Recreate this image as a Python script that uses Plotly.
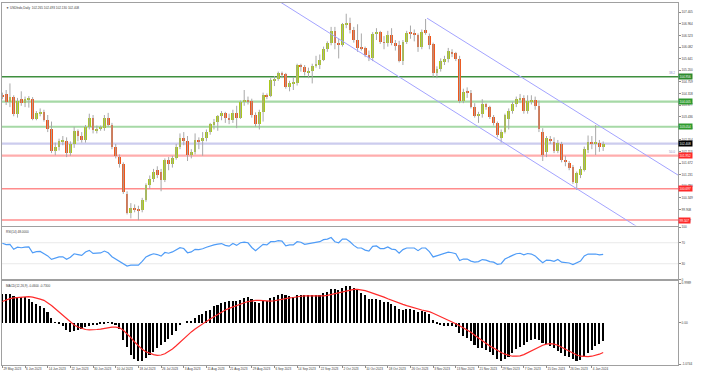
import plotly.graph_objects as go

# ---------------- data (daily bars, 29 May 2023 .. 9 Jan 2024) ----------------
OPEN = [
104.27, 104.28, 104.00, 104.17, 103.55, 104.10, 103.95, 104.08, 104.12, 103.35,
103.56, 103.62, 103.32, 102.95, 102.15, 102.28, 102.50, 102.52, 102.07, 102.38,
102.90, 102.72, 102.55, 103.05, 103.40, 102.92, 102.98, 103.00, 103.38, 103.12,
102.28, 101.92, 101.62, 100.50, 99.78, 99.95, 99.92, 99.88, 100.27, 100.82,
101.08, 101.40, 101.32, 101.02, 101.78, 101.62, 101.88, 102.30, 102.62, 102.50,
101.98, 102.08, 102.55, 102.50, 102.62, 102.85, 103.15, 103.22, 103.45, 103.58,
103.38, 103.30, 103.58, 103.40, 103.98, 104.08, 104.02, 103.50, 103.15, 103.62,
104.25, 104.22, 104.83, 104.85, 105.08, 105.05, 104.58, 104.70, 104.72, 105.40,
105.32, 105.12, 105.19, 105.38, 105.40, 105.58, 106.02, 106.22, 106.68, 106.25,
106.17, 106.95, 107.00, 106.75, 106.34, 106.10, 106.03, 105.78, 105.65, 106.57,
106.65, 106.26, 106.24, 106.56, 106.23, 106.16, 105.54, 106.26, 106.60, 106.59,
106.56, 106.09, 106.72, 106.50, 106.20, 105.08, 105.25, 105.55, 105.62, 105.90,
105.85, 105.64, 104.05, 104.37, 104.35, 103.82, 103.48, 103.55, 103.90, 103.80,
103.42, 103.18, 102.62, 102.86, 103.35, 103.65, 103.90, 104.10, 104.15, 103.65,
104.02, 104.07, 103.85, 102.85, 102.10, 102.58, 102.48, 102.15, 102.40, 101.80,
101.66, 101.52, 100.92, 101.22, 101.41, 102.18, 102.46, 102.42, 102.44, 102.265]
HIGH = [
104.35, 104.45, 104.70, 104.25, 104.15, 104.40, 104.20, 104.22, 104.18, 103.65,
103.75, 103.70, 103.50, 103.25, 102.45, 102.60, 102.70, 102.65, 102.50, 103.05,
102.95, 102.85, 103.12, 103.55, 103.50, 103.10, 103.10, 103.50, 103.58, 103.20,
102.40, 102.00, 101.70, 100.60, 100.15, 100.10, 100.05, 100.35, 100.90, 101.20,
101.45, 101.55, 101.45, 101.85, 101.90, 101.95, 102.40, 102.80, 102.85, 102.70,
102.20, 102.80, 102.65, 102.85, 102.95, 103.20, 103.35, 103.50, 103.65, 103.62,
103.55, 103.70, 103.85, 104.05, 104.45, 104.20, 104.12, 103.60, 103.70, 104.35,
104.32, 104.90, 104.98, 105.15, 105.15, 105.10, 104.80, 104.95, 105.45, 105.45,
105.40, 105.30, 105.45, 105.75, 105.80, 106.10, 106.30, 106.85, 106.85, 106.40,
107.00, 107.35, 107.20, 106.85, 106.95, 106.60, 106.10, 105.95, 106.65, 106.80,
106.70, 106.50, 106.70, 106.80, 106.35, 106.32, 106.35, 106.70, 106.90, 106.75,
106.60, 106.75, 107.15, 106.60, 106.25, 105.35, 105.65, 105.75, 106.05, 106.00,
105.90, 105.75, 104.50, 104.55, 104.45, 103.95, 103.62, 104.10, 103.95, 103.85,
103.50, 103.25, 102.95, 103.55, 103.75, 104.00, 104.20, 104.30, 104.25, 104.25,
104.25, 104.20, 104.05, 103.00, 102.70, 102.70, 102.65, 102.55, 102.48, 101.95,
101.75, 101.60, 101.35, 101.55, 102.30, 102.72, 102.70, 103.12, 102.55, 102.493]
LOW = [
104.10, 103.88, 103.80, 103.45, 103.40, 103.85, 103.80, 103.78, 103.30, 103.30,
103.45, 103.25, 102.85, 102.05, 101.97, 102.15, 102.35, 101.90, 101.95, 102.25,
102.50, 102.45, 102.45, 102.95, 102.80, 102.80, 102.90, 102.90, 103.05, 102.20,
101.85, 101.50, 100.50, 99.72, 99.57, 99.80, 99.50, 99.80, 100.20, 100.70,
100.95, 101.10, 100.60, 100.95, 101.40, 101.50, 101.80, 102.20, 102.35, 101.75,
101.85, 102.00, 102.20, 101.95, 102.50, 102.75, 102.95, 102.90, 103.30, 103.20,
103.15, 103.20, 103.00, 103.35, 103.85, 103.90, 103.40, 103.05, 102.95, 103.25,
104.10, 104.18, 104.60, 104.80, 104.90, 104.50, 104.40, 104.45, 104.62, 105.15,
105.00, 104.90, 104.70, 105.30, 105.25, 105.55, 105.90, 106.15, 106.00, 105.65,
106.10, 106.80, 106.60, 106.25, 105.90, 105.95, 105.70, 105.55, 105.55, 106.35,
106.20, 106.00, 106.10, 106.15, 105.95, 105.50, 105.40, 106.20, 106.40, 106.30,
105.90, 106.00, 106.55, 106.00, 104.95, 104.90, 105.15, 105.40, 105.50, 105.70,
105.55, 103.95, 103.95, 104.15, 103.75, 103.40, 103.20, 103.40, 103.70, 103.35,
103.10, 102.65, 102.45, 102.80, 102.95, 103.55, 103.80, 103.95, 103.55, 103.55,
103.90, 103.70, 102.85, 101.75, 101.90, 102.40, 102.05, 102.05, 101.70, 101.55,
101.40, 100.88, 100.65, 101.10, 101.35, 102.05, 102.20, 101.98, 102.10, 102.130]
CLOSE = [
104.20, 104.00, 104.18, 103.52, 104.05, 103.95, 104.10, 104.13, 103.33, 103.56,
103.62, 103.32, 102.95, 102.15, 102.28, 102.50, 102.52, 102.07, 102.38, 102.90,
102.72, 102.55, 103.05, 103.40, 102.92, 102.98, 103.00, 103.38, 103.12, 102.28,
101.95, 101.65, 100.58, 99.78, 99.95, 99.90, 99.88, 100.27, 100.82, 101.08,
101.35, 101.22, 101.02, 101.78, 101.62, 101.88, 102.30, 102.62, 102.50, 101.98,
102.08, 102.55, 102.50, 102.62, 102.85, 103.15, 103.22, 103.45, 103.58, 103.38,
103.30, 103.58, 103.40, 103.98, 104.08, 104.02, 103.50, 103.15, 103.62, 104.25,
104.22, 104.83, 104.85, 105.08, 105.05, 104.58, 104.70, 104.72, 105.40, 105.32,
105.12, 105.19, 105.38, 105.40, 105.58, 106.02, 106.22, 106.68, 106.25, 106.17,
106.95, 107.00, 106.75, 106.34, 106.05, 106.03, 105.78, 105.65, 106.57, 106.65,
106.26, 106.24, 106.56, 106.23, 106.16, 105.54, 106.26, 106.60, 106.59, 106.56,
106.09, 106.66, 106.65, 106.15, 105.08, 105.25, 105.55, 105.62, 105.92, 105.85,
105.64, 104.05, 104.37, 104.35, 103.82, 103.48, 103.55, 103.90, 103.80, 103.42,
103.18, 102.74, 102.86, 103.50, 103.65, 103.90, 104.10, 104.15, 103.65, 104.02,
104.07, 103.85, 102.95, 101.98, 102.62, 102.52, 102.12, 102.44, 101.80, 101.72,
101.48, 100.96, 101.28, 101.43, 102.22, 102.46, 102.42, 102.47, 102.30, 102.408]

RSI = [
69, 66.5, 66.8, 57.5, 61.5, 60.5, 61.5, 62.2, 51, 53,
53.5, 49, 45, 38.4, 40.8, 43, 43.2, 38.4, 42.5, 49,
47.5, 46, 52.5, 55.5, 49.8, 50.3, 50.6, 54.2, 51, 43.5,
39, 35.5, 30, 25.5, 27.2, 27.5, 27.3, 34.5, 43, 46.5,
49, 47.5, 44.5, 51.5, 50, 52.5, 56.5, 60.5, 59, 51,
52.5, 57.5, 57, 58.5, 61.5, 64.5, 66, 67.5, 68.5, 65,
63.5, 68.5, 65, 70, 71, 70, 61, 55, 61, 67,
66, 72, 72, 74, 73, 64, 66, 66, 72, 71,
67, 68, 70, 70, 72, 76, 77, 80, 72, 70,
77, 77, 72, 65, 60, 60, 56, 54, 63, 64,
59, 59, 62, 58, 57, 50, 57, 60, 60, 60,
55, 60, 60, 53, 43, 45, 48, 49, 52, 51,
49, 36, 39, 39, 35, 33, 34, 38, 37, 34,
33, 29, 30, 39, 43, 46, 49, 50, 47, 49.5,
48.5, 45, 38, 32, 37, 36.5, 34.5, 38, 33, 32.5,
31.5, 28.5, 32, 35, 45, 48.5, 48.2, 48.5, 47, 48]

MACD = [
0.70, 0.70, 0.70, 0.65, 0.63, 0.63, 0.62, 0.59, 0.51, 0.45,
0.40, 0.35, 0.27, 0.12, 0.01, -0.04, -0.09, -0.19, -0.23, -0.21,
-0.19, -0.17, -0.11, -0.09, -0.07, -0.05, -0.04, -0.025, -0.01, -0.025,
-0.05, -0.15, -0.42, -0.60, -0.79, -0.89, -0.95, -0.96, -0.87, -0.81,
-0.72, -0.64, -0.56, -0.48, -0.40, -0.31, -0.21, -0.07, 0.00, 0.02,
0.04, 0.12, 0.18, 0.22, 0.28, 0.32, 0.40, 0.44, 0.48, 0.50,
0.53, 0.53, 0.54, 0.56, 0.60, 0.62, 0.58, 0.51, 0.49, 0.52,
0.54, 0.60, 0.64, 0.68, 0.70, 0.67, 0.65, 0.63, 0.67, 0.69,
0.68, 0.67, 0.67, 0.67, 0.68, 0.72, 0.76, 0.82, 0.82, 0.81,
0.86, 0.90, 0.90, 0.86, 0.80, 0.74, 0.67, 0.59, 0.59, 0.59,
0.55, 0.51, 0.50, 0.46, 0.42, 0.33, 0.32, 0.33, 0.33, 0.32,
0.27, 0.28, 0.27, 0.20, 0.06, -0.03, -0.07, -0.09, -0.09, -0.09,
-0.12, -0.26, -0.34, -0.39, -0.46, -0.55, -0.62, -0.64, -0.68, -0.74,
-0.81, -0.89, -0.94, -0.90, -0.84, -0.76, -0.66, -0.60, -0.56, -0.49,
-0.43, -0.40, -0.43, -0.51, -0.54, -0.58, -0.64, -0.70, -0.76, -0.82,
-0.86, -0.91, -0.95, -0.92, -0.85, -0.76, -0.67, -0.59, -0.52, -0.46]

SIGNAL = [
0.53, 0.57, 0.60, 0.62, 0.63, 0.64, 0.65, 0.65, 0.64, 0.62,
0.59, 0.56, 0.50, 0.43, 0.35, 0.27, 0.18, 0.10, 0.02, -0.05,
-0.10, -0.14, -0.16, -0.17, -0.17, -0.16, -0.15, -0.13, -0.11, -0.10,
-0.10, -0.12, -0.18, -0.26, -0.36, -0.47, -0.57, -0.65, -0.71, -0.75,
-0.78, -0.80, -0.79, -0.76, -0.71, -0.64, -0.56, -0.47, -0.38, -0.30,
-0.22, -0.15, -0.08, -0.02, 0.04, 0.10, 0.16, 0.22, 0.27, 0.32,
0.36, 0.40, 0.43, 0.47, 0.50, 0.53, 0.55, 0.56, 0.56, 0.55,
0.54, 0.54, 0.55, 0.57, 0.59, 0.61, 0.62, 0.63, 0.65, 0.66,
0.67, 0.67, 0.66, 0.66, 0.66, 0.67, 0.68, 0.70, 0.72, 0.74,
0.76, 0.79, 0.81, 0.83, 0.83, 0.82, 0.80, 0.77, 0.74, 0.71,
0.68, 0.64, 0.60, 0.56, 0.52, 0.49, 0.46, 0.43, 0.40, 0.37,
0.34, 0.32, 0.30, 0.28, 0.24, 0.20, 0.15, 0.10, 0.06, 0.02,
-0.02, -0.07, -0.12, -0.17, -0.23, -0.30, -0.37, -0.44, -0.51, -0.57,
-0.62, -0.68, -0.73, -0.77, -0.80, -0.82, -0.82, -0.81, -0.78, -0.73,
-0.68, -0.63, -0.59, -0.55, -0.52, -0.51, -0.52, -0.55, -0.60, -0.65,
-0.70, -0.75, -0.79, -0.82, -0.83, -0.83, -0.82, -0.80, -0.77, -0.73]

TIME_LABELS = ["29 May 2023", "6 Jun 2023", "14 Jun 2023", "22 Jun 2023", "30 Jun 2023",
               "10 Jul 2023", "18 Jul 2023", "26 Jul 2023", "3 Aug 2023", "11 Aug 2023",
               "21 Aug 2023", "29 Aug 2023", "6 Sep 2023", "14 Sep 2023", "22 Sep 2023",
               "2 Oct 2023", "10 Oct 2023", "18 Oct 2023", "26 Oct 2023", "3 Nov 2023",
               "13 Nov 2023", "21 Nov 2023", "29 Nov 2023", "7 Dec 2023", "15 Dec 2023",
               "26 Dec 2023", "4 Jan 2024"]
LABEL_EVERY = 6

PRICE_TICKS = [107.405, 106.964, 106.523, 106.082, 105.641, 105.200, 104.759, 104.318,
               103.877, 103.436, 102.995, 102.554, 102.113, 101.672, 101.231, 100.790,
               100.349, 99.908, 99.467]

# horizontal levels: (price, line colour, line width, label box colour)
LEVELS_GREEN = [(104.956, "#3f8f3f", 1.4, "#2d8a2d"),
                (104.005, "#a6d9a6", 2.2, "#2e9a2e"),
                (103.054, "#a6d9a6", 2.2, "#2e9a2e")]
LEVELS_RED = [(101.952, "#ffadad", 2.2, "#ff2a2a"),
              (100.697, "#ff8c8c", 1.6, "#ff2a2a"),
              (99.507, "#ff8c8c", 1.6, "#ff2a2a")]
BID_LEVEL = 102.408
FIB_TEXT = [(104.956, "38.2"), (101.952, "50.0")]

# descending channel (bar index, price)
CHANNEL_UPPER_X = [112.4, 190.0]
CHANNEL_UPPER_Y = [107.18, 100.21]
CHANNEL_LOWER_X = [60.0, 190.0]
CHANNEL_LOWER_Y = [109.02, 97.26]

TITLE = "\u25BC USDIndx,Daily  102.265 102.493 102.130 102.408"
RSI_TICKS = [0, 30, 70, 100]
MACD_TICKS = [0.985, 0.0, -1.02]
MACD_TICKTEXT = ["0.9989", "0.00", "-1.0744"]

# ---------------- figure ----------------
n = len(CLOSE)
idx = list(range(n))
UP, DN = "#a9c81a", "#f0561a"
FONT = "Liberation Sans"
TXT = "#3c3c3c"
FS = 3.1

fig = go.Figure()

# wicks
wx, wy = [], []
for i in idx:
    wx += [i, i, None]
    wy += [LOW[i], HIGH[i], None]
fig.add_trace(go.Scatter(x=wx, y=wy, mode="lines", line=dict(color="#a8a8a8", width=1),
                         hoverinfo="skip", showlegend=False, xaxis="x", yaxis="y"))
# bodies
base = [min(o, c) for o, c in zip(OPEN, CLOSE)]
height = [max(abs(c - o), 0.03) for o, c in zip(OPEN, CLOSE)]
cols = [UP if c >= o else DN for o, c in zip(OPEN, CLOSE)]
fig.add_trace(go.Bar(x=idx, y=height, base=base, width=0.74,
                     marker=dict(color=cols, line=dict(width=0)),
                     showlegend=False, xaxis="x", yaxis="y"))
# channel
fig.add_trace(go.Scatter(x=CHANNEL_UPPER_X, y=CHANNEL_UPPER_Y, mode="lines",
                         line=dict(color="#a3a3ff", width=1), showlegend=False,
                         xaxis="x", yaxis="y"))
fig.add_trace(go.Scatter(x=CHANNEL_LOWER_X, y=CHANNEL_LOWER_Y, mode="lines",
                         line=dict(color="#a3a3ff", width=1), showlegend=False,
                         xaxis="x", yaxis="y"))
# RSI
fig.add_trace(go.Scatter(x=idx, y=RSI, mode="lines", line=dict(color="#4f9cf7", width=1.2),
                         showlegend=False, xaxis="x2", yaxis="y2"))
# MACD
fig.add_trace(go.Bar(x=idx, y=MACD, width=0.42, marker=dict(color="#000000", line=dict(width=0)),
                     showlegend=False, xaxis="x3", yaxis="y3"))
fig.add_trace(go.Scatter(x=idx, y=SIGNAL, mode="lines", line=dict(color="#ff2b2b", width=1.2),
                         showlegend=False, xaxis="x3", yaxis="y3"))

shapes = []
for lv, col, w, _ in LEVELS_GREEN + LEVELS_RED:
    shapes.append(dict(type="line", xref="paper", x0=0, x1=1, yref="y", y0=lv, y1=lv,
                       line=dict(color=col, width=w), layer="below"))
shapes.append(dict(type="line", xref="paper", x0=0, x1=1, yref="y", y0=BID_LEVEL, y1=BID_LEVEL,
                   line=dict(color="#ccccee", width=2.2), layer="below"))
for lv in (30, 70):
    shapes.append(dict(type="line", xref="paper", x0=0, x1=1, yref="y2", y0=lv, y1=lv,
                       line=dict(color="#e9e9e9", width=1), layer="below"))

ann = []
for lv, _, _, box in LEVELS_GREEN + LEVELS_RED:
    ann.append(dict(xref="paper", x=1, xanchor="left", yref="y", y=lv, yanchor="middle",
                    text=f"{lv:.3f}", showarrow=False, bgcolor=box, borderpad=0.6,
                    font=dict(size=FS, color="white", family=FONT)))
ann.append(dict(xref="paper", x=1, xanchor="left", yref="y", y=BID_LEVEL, yanchor="middle",
                text=f"{BID_LEVEL:.3f}", showarrow=False, bgcolor="#000000", borderpad=0.6,
                font=dict(size=FS, color="white", family=FONT)))
for lv, t in FIB_TEXT:
    ann.append(dict(xref="paper", x=0.998, xanchor="right", yref="y", y=lv, yanchor="bottom",
                    text=t, showarrow=False, font=dict(size=FS, color="#8b8bc8", family=FONT)))
ann.append(dict(xref="paper", x=0.003, xanchor="left", yref="y domain", y=0.997, yanchor="top",
                text=TITLE, showarrow=False, font=dict(size=FS, color=TXT, family=FONT)))
ann.append(dict(xref="paper", x=0.003, xanchor="left", yref="y2 domain", y=0.99, yanchor="top",
                text=f"RSI(14) {RSI[-1]:.4f}", showarrow=False,
                font=dict(size=FS, color=TXT, family=FONT)))
ann.append(dict(xref="paper", x=0.003, xanchor="left", yref="y3 domain", y=0.99, yanchor="top",
                text=f"MACD(12,26,9) {MACD[-1]:.4f} {SIGNAL[-1]:.4f}", showarrow=False,
                font=dict(size=FS, color=TXT, family=FONT)))

frame = dict(showline=True, mirror=True, linecolor="#a0a0a0", linewidth=1,
             showgrid=False, zeroline=False)
xr = [-0.1, 178.8]
tickfont = dict(size=FS, color=TXT, family=FONT)

fig.update_layout(
    width=703, height=382, margin=dict(l=2, r=25, t=3, b=17),
    paper_bgcolor="white", plot_bgcolor="white", bargap=0, barmode="overlay",
    showlegend=False, shapes=shapes, annotations=ann,
    xaxis=dict(domain=[0, 1], anchor="y", range=xr, showticklabels=False, ticks="", **frame),
    xaxis2=dict(domain=[0, 1], anchor="y2", range=xr, matches="x", showticklabels=False, ticks="", **frame),
    xaxis3=dict(domain=[0, 1], anchor="y3", range=xr, matches="x",
                tickvals=[k * LABEL_EVERY for k in range(len(TIME_LABELS))], ticktext=TIME_LABELS,
                ticks="outside", ticklen=2, tickcolor="#8a8a8a", tickfont=tickfont, tickangle=0,
                ticklabelposition="outside right", **frame),
    yaxis=dict(domain=[0.3853, 1], anchor="x", side="right", range=[99.298, 107.758],
               tickvals=PRICE_TICKS, ticktext=[f"{v:.3f}" for v in PRICE_TICKS],
               ticks="outside", ticklen=2, tickcolor="#8a8a8a", tickfont=tickfont, **frame),
    yaxis2=dict(domain=[0.2362, 0.3812], anchor="x2", side="right", range=[0, 100],
                tickvals=RSI_TICKS, ticktext=[str(v) for v in RSI_TICKS],
                ticks="outside", ticklen=2, tickcolor="#8a8a8a", tickfont=tickfont, **frame),
    yaxis3=dict(domain=[0, 0.2307], anchor="x3", side="right", range=[-1.037, 1.025],
                tickvals=MACD_TICKS, ticktext=MACD_TICKTEXT,
                ticks="outside", ticklen=2, tickcolor="#8a8a8a", tickfont=tickfont, **frame),
)

fig.write_html("out.html", config={"displayModeBar": False},
               post_script="document.body.style.margin='0px';document.body.style.overflow='hidden';")
